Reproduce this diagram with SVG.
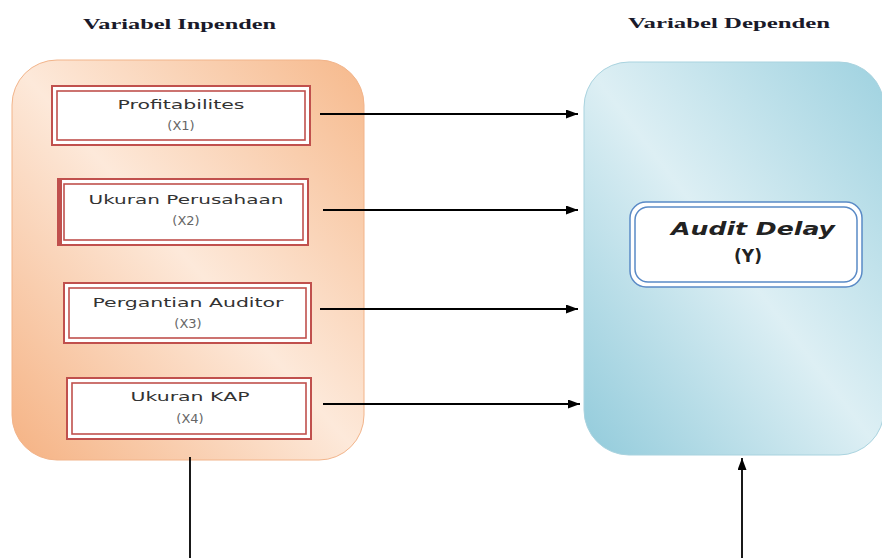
<svg xmlns="http://www.w3.org/2000/svg" width="882" height="558" viewBox="0 0 882 558">
<defs>
<linearGradient id="gOr" x1="0" y1="1" x2="1" y2="0">
<stop offset="0" stop-color="#F5B283"/>
<stop offset="0.5" stop-color="#FDE9DA"/>
<stop offset="1" stop-color="#F6B98C"/>
</linearGradient>
<linearGradient id="gBl" x1="0" y1="1" x2="1" y2="0">
<stop offset="0" stop-color="#92CBDB"/>
<stop offset="0.5" stop-color="#DDEFF4"/>
<stop offset="1" stop-color="#9FD2E0"/>
</linearGradient>
<marker id="ah" markerWidth="12" markerHeight="9" refX="12" refY="4.5" orient="auto" markerUnits="userSpaceOnUse">
<path d="M0,0 L12,4.5 L0,9 Z" fill="#000"/>
</marker>
<style>
.title{font-family:"Liberation Serif",serif;font-weight:bold;font-size:14px;fill:#1a1a2a}
.lbl{font-family:"DejaVu Sans",sans-serif;font-size:12.5px;fill:#333}
.sub{font-family:"DejaVu Sans",sans-serif;font-size:13px;fill:#666}
.outer{fill:#fff;stroke:#C0504D;stroke-width:2}
.inner{fill:#fff;stroke:#C0504D;stroke-width:1.6}
.conn{stroke:#000;stroke-width:1.8;fill:none}
</style>
</defs>
<rect width="882" height="558" fill="#fff"/>
<text class="title" x="83" y="29" textLength="193" lengthAdjust="spacingAndGlyphs">Variabel Inpenden</text>
<text class="title" x="628" y="28" textLength="202" lengthAdjust="spacingAndGlyphs">Variabel Dependen</text>

<g id="panel-independen">
<rect x="12" y="60" width="352" height="400" rx="45" fill="url(#gOr)" stroke="#F2B48A" stroke-width="1"/>
</g>
<g id="panel-dependen">
<rect x="584" y="62" width="300" height="393" rx="45" fill="url(#gBl)" stroke="#A9D3DF" stroke-width="1"/>
</g>

<g id="x1">
<rect class="outer" x="52" y="86" width="258" height="59"/>
<rect class="inner" x="57" y="91" width="248" height="49"/>
<text class="lbl" x="181" y="109" text-anchor="middle" textLength="127" lengthAdjust="spacingAndGlyphs">Profitabilites</text>
<text class="sub" x="181" y="130" text-anchor="middle">(X1)</text>
</g>
<g id="x2">
<rect class="outer" x="58" y="179" width="250" height="66"/>
<rect x="57" y="179" width="5" height="66" fill="#C0504D"/>
<rect class="inner" x="64" y="184" width="239" height="56"/>
<text class="lbl" x="186" y="204" text-anchor="middle" textLength="195" lengthAdjust="spacingAndGlyphs">Ukuran Perusahaan</text>
<text class="sub" x="186" y="225" text-anchor="middle">(X2)</text>
</g>
<g id="x3">
<rect class="outer" x="64" y="283" width="247" height="60"/>
<rect class="inner" x="69" y="288" width="237" height="50"/>
<text class="lbl" x="188" y="307" text-anchor="middle" textLength="191" lengthAdjust="spacingAndGlyphs">Pergantian Auditor</text>
<text class="sub" x="188" y="328" text-anchor="middle">(X3)</text>
</g>
<g id="x4">
<rect class="outer" x="67" y="378" width="244" height="61"/>
<rect class="inner" x="72" y="383" width="234" height="51"/>
<text class="lbl" x="190" y="401" text-anchor="middle" textLength="119" lengthAdjust="spacingAndGlyphs">Ukuran KAP</text>
<text class="sub" x="190" y="423" text-anchor="middle">(X4)</text>
</g>

<g id="y">
<rect x="630" y="202" width="232" height="85" rx="16" fill="#fff" stroke="#5A8AC6" stroke-width="1.5"/>
<rect x="635" y="207" width="222" height="75" rx="13" fill="#fff" stroke="#5A8AC6" stroke-width="1.5"/>
<text x="753" y="235" text-anchor="middle" font-family="DejaVu Sans, sans-serif" font-style="italic" font-weight="bold" font-size="18" fill="#222" textLength="164" lengthAdjust="spacingAndGlyphs">Audit Delay</text>
<text x="748" y="262" text-anchor="middle" font-family="DejaVu Sans, sans-serif" font-weight="bold" font-size="17" fill="#222">(Y)</text>
</g>

<g id="connectors">
<line class="conn" x1="320" y1="114" x2="578" y2="114" marker-end="url(#ah)"/>
<line class="conn" x1="323" y1="210" x2="578" y2="210" marker-end="url(#ah)"/>
<line class="conn" x1="320" y1="309" x2="578" y2="309" marker-end="url(#ah)"/>
<line class="conn" x1="323" y1="404" x2="580" y2="404" marker-end="url(#ah)"/>
<line class="conn" x1="190" y1="457" x2="190" y2="558"/>
<line class="conn" x1="742" y1="558" x2="742" y2="458" marker-end="url(#ah)"/>
</g>
</svg>
